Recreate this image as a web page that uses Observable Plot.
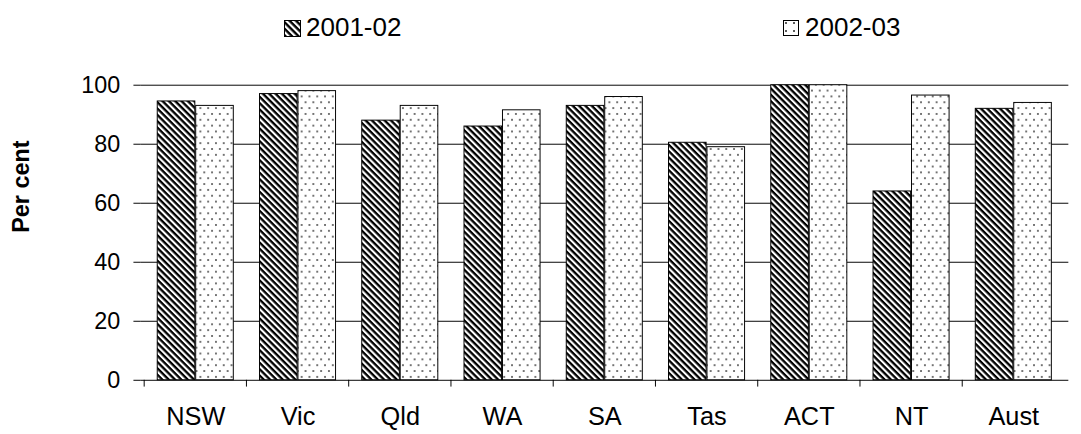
<!DOCTYPE html>
<html><head><meta charset="utf-8">
<script src="https://cdn.jsdelivr.net/npm/d3@7"></script>
<script src="https://cdn.jsdelivr.net/npm/@observablehq/plot@0.6"></script>
<style>
html,body{margin:0;overflow:hidden;width:1081px;height:434px;font-family:"Liberation Sans",Arial,sans-serif;background:#fff}
.leg{position:absolute;top:14px;font-size:26px;line-height:26px;white-space:nowrap}
.leg svg{vertical-align:-1px;margin-right:5px}
#chart{position:absolute;left:0;top:0}
</style></head><body>
<svg width="0" height="0" style="position:absolute">
  <defs>
    <pattern id="hatch" patternUnits="userSpaceOnUse" width="4.6" height="4.6" patternTransform="rotate(45)">
      <rect width="4.6" height="4.6" fill="#fff"/><rect width="4.6" height="2.4" fill="#000"/>
    </pattern>
    <pattern id="dots" patternUnits="userSpaceOnUse" width="8" height="12">
      <rect width="8" height="12" fill="#fff"/><circle cx="2" cy="3" r="1" fill="#444"/><circle cx="6" cy="9" r="1" fill="#444"/>
    </pattern>
    <pattern id="dotsL" patternUnits="userSpaceOnUse" width="8" height="8">
      <rect width="8" height="8" fill="#fff"/><circle cx="3" cy="3" r="1" fill="#222"/><circle cx="9" cy="9" r="1" fill="#222"/>
    </pattern>
  </defs>
</svg>
<div id="chart"></div>
<div class="leg" style="left:284px"><svg width="17" height="17"><rect width="16" height="16" x="0.5" y="0.5" fill="url(#hatch)" stroke="#000"/></svg>2001-02</div>
<div class="leg" style="left:783px"><svg width="17" height="17"><rect width="15" height="15" x="0.5" y="0.5" fill="url(#dotsL)" stroke="#000"/></svg>2002-03</div>
<script>
const states = ["NSW","Vic","Qld","WA","SA","Tas","ACT","NT","Aust"];
const y2001 = [94.5, 97, 88, 86, 93, 80.5, 100, 64, 92];
const y2002 = [93, 98, 93, 91.5, 96, 79, 100, 96.5, 94];

const data = [
  ...states.map((s, i) => ({state: s, year: "2001-02", value: y2001[i]})),
  ...states.map((s, i) => ({state: s, year: "2002-03", value: y2002[i]}))
];

const chart = Plot.plot({
  width: 1110,
  height: 434,
  marginTop: 87,
  marginBottom: 44,
  marginLeft: 144,
  marginRight: 13,
  style: {fontFamily: "Liberation Sans, Arial, sans-serif", fontSize: "24px", color: "#000", overflow: "visible"},
  x: {domain: states, padding: 0, label: null},
  y: {domain: [0, 100], ticks: [0, 20, 40, 60, 80, 100], label: null},
  marks: [
    Plot.gridY([20, 40, 60, 80, 100], {stroke: "#000", strokeOpacity: 1, strokeWidth: 1}),
    Plot.barY(data.filter(d => d.year === "2001-02"), {x: "state", y: "value", dx: -19.75, insetLeft: 33.2, insetRight: 33.2, fill: "url(#hatch)", stroke: "#000", strokeWidth: 1}),
    Plot.barY(data.filter(d => d.year === "2002-03"), {x: "state", y: "value", dx: 19.75, insetLeft: 33.2, insetRight: 33.2, fill: "url(#dots)", stroke: "#000", strokeWidth: 1}),
    Plot.ruleY([0], {stroke: "#000"}),
    Plot.ruleX(states, {x: d => d, dx: -52.95, y1: 0, y2: -2.3, stroke: "#000"}),
    Plot.axisY({ticks: [0, 20, 40, 60, 80, 100], tickSize: 7, tickPadding: 14, line: true, label: null, fontSize: 24}),
    Plot.axisX({tickSize: 0, tickPadding: 27, label: null, fontSize: 26}),
    Plot.text(["Per cent"], {frameAnchor: "left", dx: -122, rotate: -90, fontWeight: "bold", fontSize: 24})
  ]
});
document.getElementById("chart").append(chart);
</script>
</body></html>
